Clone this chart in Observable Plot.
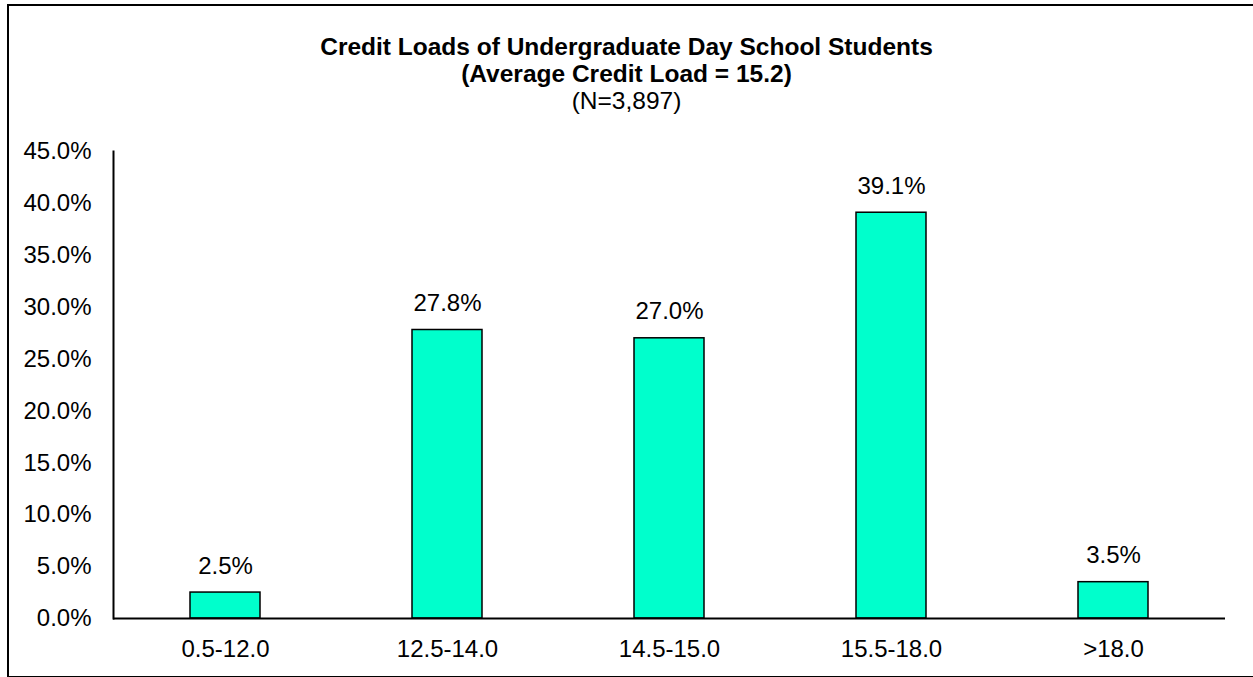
<!DOCTYPE html>
<html>
<head>
<meta charset="utf-8">
<script src="https://cdn.jsdelivr.net/npm/d3@7"></script>
<script src="https://cdn.jsdelivr.net/npm/@observablehq/plot@0.6"></script>
<style>
  html, body { margin: 0; padding: 0; background: #fff; }
  body { width: 1253px; height: 677px; position: relative; overflow: hidden; font-family: "Liberation Sans", Arial, sans-serif; }
  #border { position: absolute; left: 7px; top: 4px; width: 1270px; height: 674px; border: 2px solid #000; box-sizing: border-box; }
  #title { position: absolute; left: 0; top: 33px; width: 1253px; text-align: center; color: #000; line-height: 27px; }
  #title .b { font-weight: bold; font-size: 24.5px; }
  #title .n { font-size: 24.5px; }
  #chart { position: absolute; left: 0; top: 125px; }
</style>
</head>
<body>
<div id="border"></div>
<div id="title">
  <div class="b">Credit Loads of Undergraduate Day School Students</div>
  <div class="b">(Average Credit Load = 15.2)</div>
  <div class="n">(N=3,897)</div>
</div>
<div id="chart"></div>
<script>
const categories = ["0.5-12.0", "12.5-14.0", "14.5-15.0", "15.5-18.0", ">18.0"];
const percents = [2.5, 27.8, 27.0, 39.1, 3.5];
const yTicks = [0, 5, 10, 15, 20, 25, 30, 35, 40, 45];

const data = categories.map((c, i) => ({category: c, value: percents[i]}));
const fmt = v => v.toFixed(1) + "%";

const chart = Plot.plot({
  width: 1253,
  height: 552,
  marginLeft: 113,
  marginRight: 28,
  marginTop: 26,
  marginBottom: 59,
  style: {fontFamily: "'Liberation Sans', Arial, sans-serif", fontSize: "24px", color: "#000", background: "transparent", overflow: "visible"},
  x: {domain: categories, paddingInner: 0.685, paddingOuter: 0.3425, label: null},
  y: {domain: [0, 45], label: null},
  marks: [
    Plot.axisY({ticks: yTicks, tickFormat: fmt, tickSize: 0, tickPadding: 22, fontSize: 24, label: null}),
    Plot.axisX({tickSize: 0, tickPadding: 21, fontSize: 24, label: null}),
    Plot.frame({anchor: "left", stroke: "#000", strokeWidth: 2}),
    Plot.barY(data, {x: "category", y: "value", fill: "#00FFCC", stroke: "#000", strokeWidth: 1.5}),
    Plot.ruleY([0], {stroke: "#000", strokeWidth: 2}),
    Plot.text(data, {x: "category", y: "value", text: d => fmt(d.value), lineAnchor: "bottom", dy: -19, fontSize: 24, fill: "#000"})
  ]
});
document.getElementById("chart").appendChild(chart);
</script>
</body>
</html>
